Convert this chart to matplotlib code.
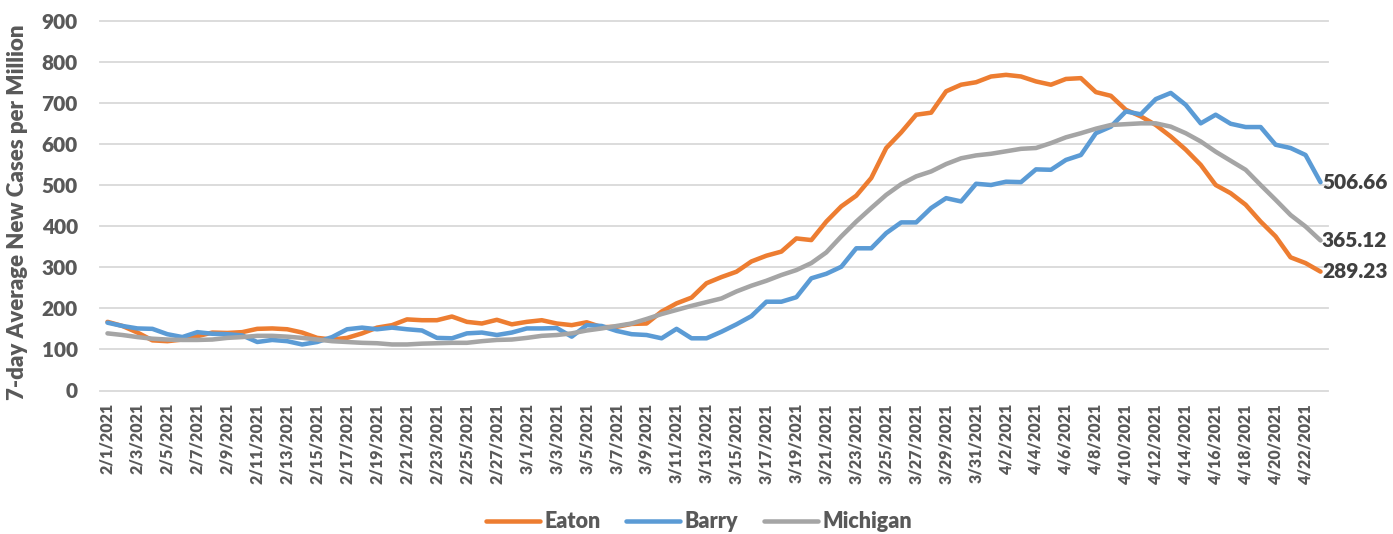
import numpy as np
import pandas as pd
import matplotlib
matplotlib.use("Agg")
import matplotlib.pyplot as plt

# --- data ---
dates = pd.date_range("2021-02-01", "2021-04-23", freq="D")
date_labels = [f"{d.month}/{d.day}/{d.year}" for d in dates]

eaton = [167, 157, 141, 122, 120, 124, 132, 141, 140, 142,
         150, 151, 149, 141, 128, 124, 128, 139, 153, 159,
         173, 171, 171, 180, 167, 163, 172, 161, 167, 171,
         163, 159, 166, 154, 155, 162, 163, 192, 212, 226,
         261, 276, 289, 314, 328, 338, 370, 366, 411, 448,
         474, 517, 590, 628, 671, 676, 728, 744, 750, 764,
         768, 764, 752, 744, 758, 760, 726, 717, 683, 667,
         646, 618, 586, 549, 500, 480, 452, 411, 375, 324,
         310, 289.23]

barry = [165, 157, 151, 150, 137, 130, 142, 138, 137, 134,
         118, 123, 120, 112, 118, 130, 149, 153, 149, 153,
         149, 146, 128, 127, 139, 141, 135, 141, 151, 151,
         152, 131, 159, 157, 145, 137, 135, 127, 150, 127,
         127, 143, 161, 181, 216, 216, 227, 273, 284, 301,
         346, 346, 383, 409, 409, 444, 468, 460, 503, 500,
         508, 507, 538, 537, 561, 573, 626, 642, 679, 672,
         709, 724, 695, 650, 671, 649, 641, 641, 598, 590,
         573, 506.66]

michigan = [139, 135, 130, 126, 124, 123, 123, 124, 128, 130,
            133, 133, 131, 128, 124, 120, 118, 116, 115, 112,
            112, 114, 115, 116, 116, 120, 123, 124, 128, 133,
            135, 139, 146, 151, 157, 163, 174, 186, 196, 206,
            215, 224, 241, 255, 267, 281, 293, 310, 336, 375,
            411, 444, 476, 502, 521, 533, 551, 565, 572, 576,
            582, 588, 590, 602, 616, 626, 637, 646, 648, 650,
            650, 642, 626, 606, 581, 559, 537, 500, 464, 427,
            399, 365.12]

series = [("Eaton", eaton, "#ED7D31"),
          ("Barry", barry, "#5B9BD5"),
          ("Michigan", michigan, "#A5A5A5")]

text_col = "#595959"
W = "heavy"
plt.rcParams["font.family"] = ["Lato", "DejaVu Sans"]
plt.rcParams["font.weight"] = W

fig = plt.figure(figsize=(13.93, 5.34), dpi=100)
ax = fig.add_axes([100 / 1393, 1 - 390.5 / 534, 1228 / 1393, 369.9 / 534])

x = np.arange(len(dates))
for name, vals, col in series:
    ax.plot(x, vals, color=col, lw=3.25, label=name,
            solid_joinstyle="round", solid_capstyle="round")
    ax.annotate(f"{vals[-1]:.2f}", (x[-1], vals[-1]), xytext=(1, 0),
                textcoords="offset points", ha="left", va="center",
                fontsize=15, fontweight=W, color="#404040")

ax.set_xlim(-0.5, len(dates) - 0.5)
ax.set_ylim(0, 900)
ax.set_yticks(range(0, 901, 100))
ax.set_xticks(x[::2])
ax.set_xticklabels(date_labels[::2], rotation=90, fontsize=11.5,
                   fontweight=W, color=text_col)
ax.tick_params(axis="x", length=0, pad=9)
ax.tick_params(axis="y", length=0, pad=16, labelsize=15, labelcolor=text_col)
for t in ax.get_yticklabels():
    t.set_fontweight(W)

ax.yaxis.grid(True, color="#D9D9D9", lw=1.3)
ax.set_axisbelow(True)
for gl in ax.get_ygridlines():
    gl.set_clip_on(False)
for s in ax.spines.values():
    s.set_visible(False)

fig.text(18 / 1393, 1 - 212 / 534, "7-day Average New Cases per Million",
         rotation=90, ha="center", va="center", fontsize=16,
         fontweight=W, color=text_col)

fig.legend(loc="center", bbox_to_anchor=(699 / 1393, 12 / 534), ncol=3,
           frameon=False, handlelength=2.5, handletextpad=0.2,
           columnspacing=1.2, labelcolor=text_col,
           prop={"size": 15.5, "weight": W})

fig.savefig("out.png", dpi=100)
